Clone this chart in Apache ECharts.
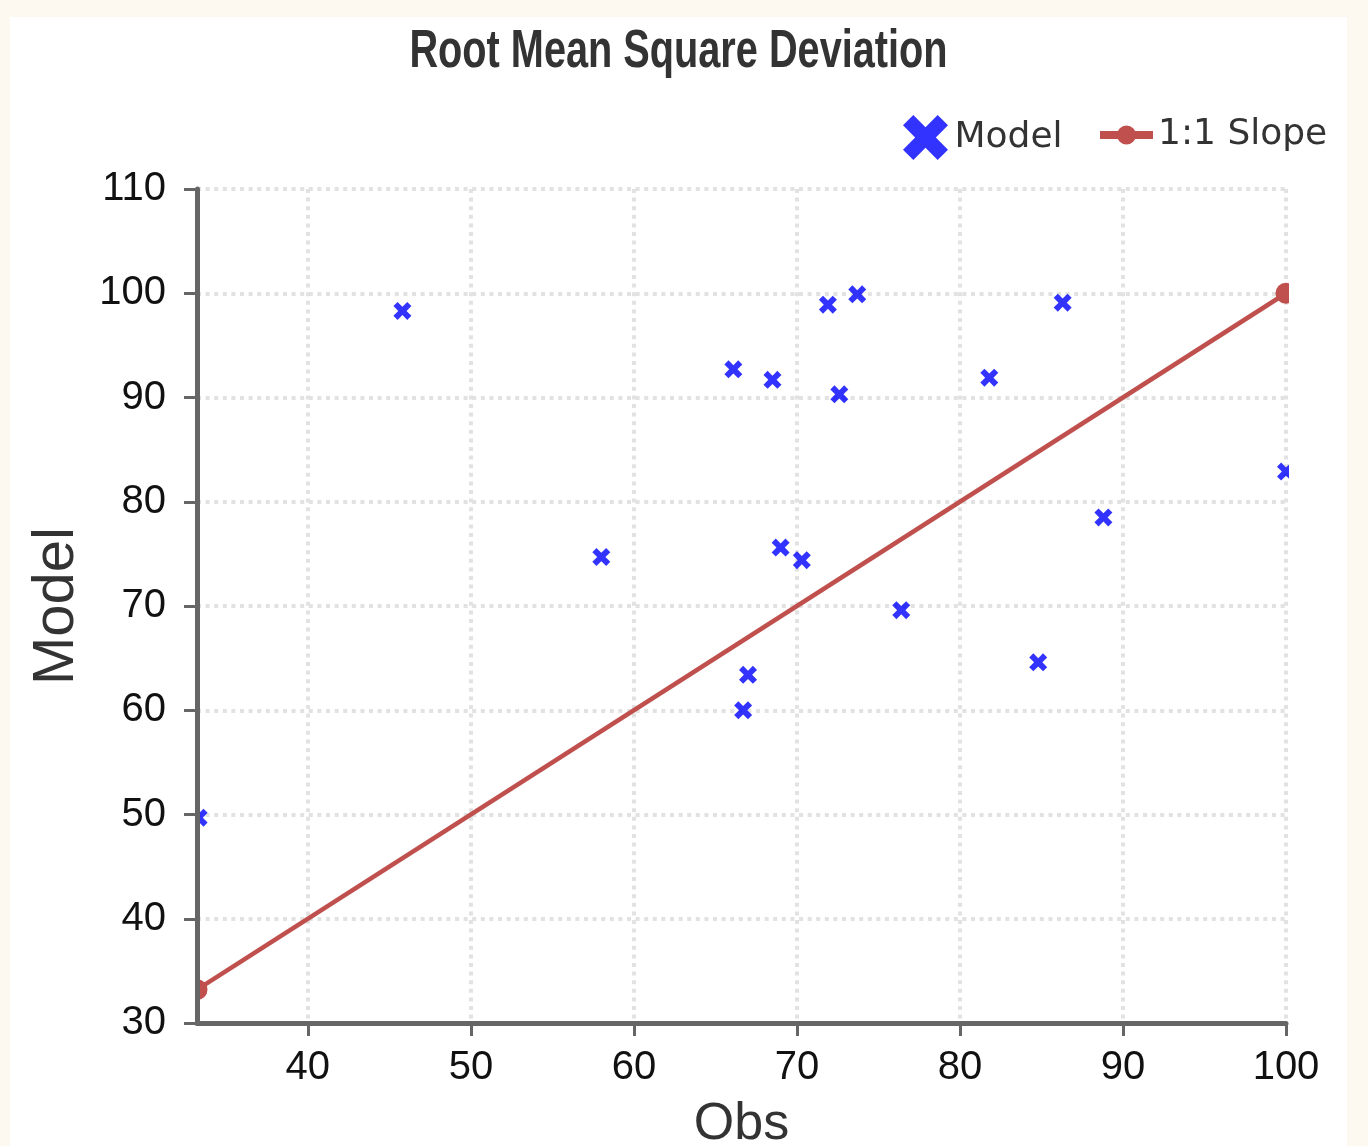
<!DOCTYPE html>
<html>
<head>
<meta charset="utf-8">
<script src="https://cdn.jsdelivr.net/npm/echarts@6/dist/echarts.min.js"></script>
<style>
  html, body { margin: 0; padding: 0; background: #fff; overflow: hidden; }
  #chart { width: 1368px; height: 1146px; }
</style>
</head>
<body>
<div id="chart"></div>
<script>
// ---- data ----
const obsValues   = [33.3, 45.8, 58.0, 66.1, 68.5, 71.9, 73.7, 72.6, 86.3, 81.8, 100.0, 88.8, 69.0, 70.3, 76.4, 84.8, 67.0, 66.7];
const modelValues = [49.7, 98.3, 74.7, 92.7, 91.7, 98.9, 99.9, 90.3, 99.1, 91.9, 82.9, 78.5, 75.6, 74.4, 69.6, 64.6, 63.4, 60.0];
const slopeObs    = [33.2, 100];
const slopeModel  = [33.2, 100];
const xMin = 33.2, xMax = 100, xStep = 10;
const yMin = 30, yMax = 110, yStep = 10;
const titleText = 'Root Mean Square Deviation';
const seriesNames = ['Model', '1:1 Slope'];
const axisNames = { x: 'Obs', y: 'Model' };

// ---- layout ----
const W = 1368, H = 1146;
const G = { left: 197, top: 189, right: 82, bottom: 123 };
const tickFont = 'Liberation Sans, Arial, sans-serif';
const xSymbol = 'path://M0,2.3 L2.3,0 L5,2.7 L7.7,0 L10,2.3 L7.3,5 L10,7.7 L7.7,10 L5,7.3 L2.3,10 L0,7.7 L2.7,5 Z';
const slopeIcon = 'path://M0,6.5H53V14.5H0Z M36,10.5A9.5,9.5 0 1 1 17,10.5A9.5,9.5 0 1 1 36,10.5Z';
const gridLine = { color: '#e2e2e2', width: 4, type: [4, 4.6] };
const axisColor = '#666';

const scatterData = obsValues.map((v, i) => [v, modelValues[i]]);
const slopeData = slopeObs.map((v, i) => [v, slopeModel[i]]);

const chart = echarts.init(document.getElementById('chart'), null, { renderer: 'canvas' });
const gridRight = W - G.right;
const gridBottom = H - G.bottom;

chart.setOption({
  backgroundColor: '#ffffff',
  animation: false,
  legend: [
    {
      data: [{ name: seriesNames[0], icon: xSymbol }],
      left: 898, top: 110,
      itemWidth: 48, itemHeight: 45,
      textStyle: { fontFamily: 'DejaVu Sans', fontSize: 36, color: '#333' }
    },
    {
      data: [{ name: seriesNames[1], icon: slopeIcon }],
      left: 1095, top: 112,
      itemWidth: 53, itemHeight: 21,
      textStyle: { fontFamily: 'DejaVu Sans', fontSize: 36, color: '#333' }
    }
  ],
  grid: {
    left: G.left, top: G.top, right: G.right, bottom: G.bottom,
    containLabel: false, outerBoundsMode: 'none'
  },
  xAxis: {
    type: 'value', min: xMin, max: xMax, minInterval: xStep, maxInterval: xStep,
    z: 0,
    axisLine: { show: true, onZero: false, lineStyle: { color: axisColor, width: 5 } },
    axisTick: { show: true, length: 13, lineStyle: { color: axisColor, width: 3 } },
    axisLabel: { fontFamily: tickFont, fontSize: 40, color: '#111', margin: 25, showMinLabel: false },
    splitLine: { show: true, lineStyle: gridLine },
    name: axisNames.x, nameLocation: 'middle', nameGap: 76, nameMoveOverlap: false,
    nameTextStyle: { fontFamily: 'Liberation Sans', fontSize: 52, color: '#333' }
  },
  yAxis: [
    {
      type: 'value', min: yMin, max: yMax, interval: yStep,
      z: 5,
      axisLine: { show: true, onZero: false, lineStyle: { color: axisColor, width: 5 } },
      axisTick: { show: true, length: 13, lineStyle: { color: axisColor, width: 3 } },
      axisLabel: { fontFamily: tickFont, fontSize: 40, color: '#111', margin: 31 },
      splitLine: { show: false },
      name: axisNames.y, nameLocation: 'middle', nameGap: 111, nameMoveOverlap: false,
      nameTextStyle: { fontFamily: 'Liberation Sans', fontSize: 58, color: '#333' }
    },
    {
      type: 'value', min: yMin, max: yMax, interval: yStep,
      z: 0,
      axisLine: { show: false }, axisTick: { show: false }, axisLabel: { show: false },
      splitLine: { show: true, lineStyle: gridLine }
    }
  ],
  series: [
    {
      name: seriesNames[0], type: 'scatter', data: scatterData,
      symbol: xSymbol, symbolSize: 18,
      itemStyle: { color: '#0000ff' }, z: 2, clip: false
    },
    {
      name: seriesNames[1], type: 'line', data: slopeData,
      symbol: 'circle', symbolSize: 21, showAllSymbol: true,
      lineStyle: { color: '#c0504d', width: 4.5 },
      itemStyle: { color: '#c0504d' }, z: 2, clip: false
    }
  ],
  graphic: [
    // cream frame around the white panel
    { type: 'rect', shape: { x: 0, y: 0, width: W, height: 17 }, style: { fill: '#fdf9f0' }, z: 0, silent: true },
    { type: 'rect', shape: { x: 0, y: 0, width: 10, height: H }, style: { fill: '#fdf9f0' }, z: 0, silent: true },
    { type: 'rect', shape: { x: 1347, y: 0, width: W - 1347, height: H }, style: { fill: '#fdf9f0' }, z: 0, silent: true },
    // chart title (condensed heavy face)
    {
      type: 'text', x: 678.5, y: 52, scaleX: 0.735, z: 6, silent: true,
      style: {
        text: titleText, x: 0, y: 0, align: 'center', verticalAlign: 'middle',
        font: 'bold 54px "Liberation Sans", Arial, sans-serif', fill: '#333'
      }
    },
    // masks that clip marks at the plot edges
    { type: 'rect', shape: { x: gridRight + 3, y: G.top - 15, width: 1347 - gridRight - 3, height: gridBottom - G.top + 5 }, style: { fill: '#ffffff' }, z: 3, silent: true },
    { type: 'rect', shape: { x: G.left - 30, y: G.top + 560, width: 29.5, height: gridBottom - G.top - 575 }, style: { fill: '#ffffff' }, z: 3, silent: true },
    { type: 'rect', shape: { x: G.left - 4, y: gridBottom + 3, width: 8, height: 16 }, style: { fill: '#ffffff' }, z: 3, silent: true }
  ]
});
</script>
</body>
</html>
